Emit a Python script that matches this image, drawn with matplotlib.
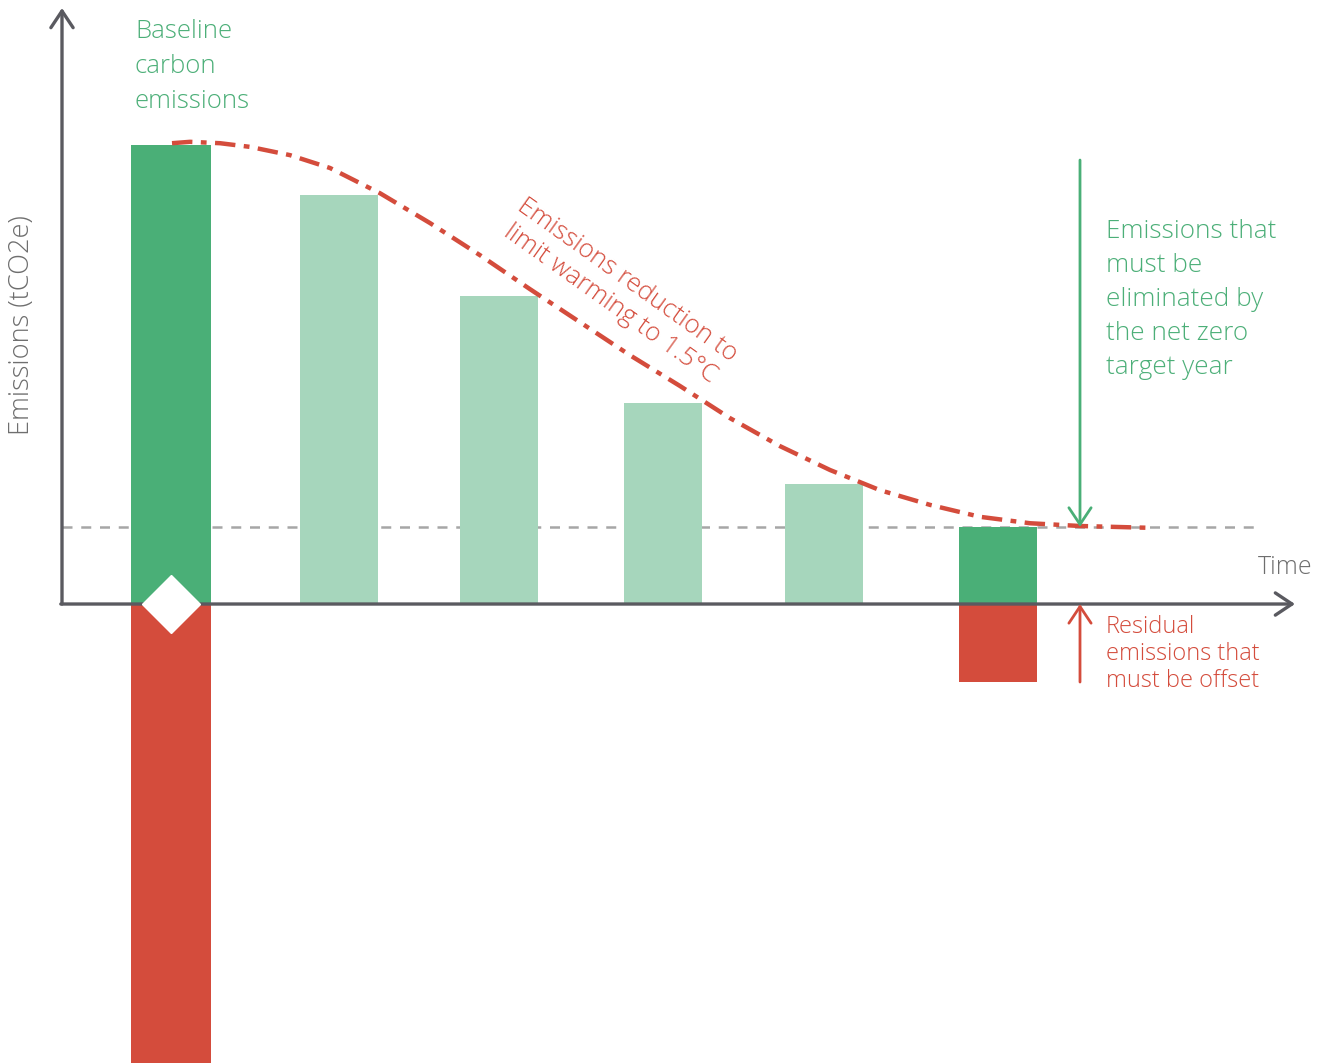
import matplotlib
matplotlib.use("Agg")
import matplotlib.pyplot as plt

plt.rcParams['font.family'] = ['Open Sans', 'DejaVu Sans']

# ---- data ----
bar_x = [171, 339, 499, 663, 824, 998]
bar_values = [100.0, 89.1, 67.1, 43.8, 26.1, 16.8]
bar_widths = [80, 78, 78, 78, 78, 78]
bar_kind = ['base', 'mid', 'mid', 'mid', 'mid', 'final']
offset_x = [171, 998]
offset_values = [-100.0, -17.0]
offset_widths = [80, 78]
net_zero_level = 16.8

curve_x = [172, 190, 220, 250, 290, 330, 380, 430, 480, 530, 580, 630, 680, 730,
           780, 830, 880, 930, 980, 1030, 1080, 1150]
curve_y = [100.4, 100.7, 100.4, 99.6, 97.8, 95.0, 89.5, 83.0, 76.0, 68.6, 61.4,
           54.2, 47.5, 40.5, 34.4, 29.2, 24.8, 21.6, 19.0, 17.6, 17.0, 16.6]

W, H = 1317, 1063
DARK_GREEN = '#4aaf77'
LIGHT_GREEN = '#a6d6bc'
RED = '#d44c3c'
TXT_GREEN = '#4caf78'
AX = '#5a5a60'
GREY_TXT = '#6e6e6e'

fig = plt.figure(figsize=(W / 100, H / 100), dpi=100)
ax = fig.add_axes([0, 0, 1, 1])
ax.set_xlim(0, W)
ax.set_ylim(-100, 131.6)
ax.axis('off')

def fx(px):
    return px / W

def fy(py):
    return 1 - py / H

colors = {'base': DARK_GREEN, 'mid': LIGHT_GREEN, 'final': DARK_GREEN}
ax.bar(bar_x, bar_values, width=bar_widths, color=[colors[k] for k in bar_kind],
       align='center', zorder=2)
ax.bar(offset_x, offset_values, width=offset_widths, color=RED, zorder=2)

# net zero dashed level
ax.plot([62, 1262], [net_zero_level, net_zero_level], color='#a6a6a6', lw=1.8,
        linestyle=(0, (4, 3.5)), zorder=1)

# reduction pathway
ax.plot(curve_x, curve_y, color=RED, lw=3.2, linestyle=(0, (4.6, 1.9, 1.3, 1.9)),
        zorder=3, solid_joinstyle='round', dash_joinstyle='round',
        dash_capstyle='butt')

# axes with arrows
ax.annotate('', xy=(62, 131.6 - 8 / 4.59), xytext=(62, 0),
            arrowprops=dict(arrowstyle='->,head_length=0.6,head_width=0.4',
                            color=AX, lw=2.4, mutation_scale=20, shrinkA=0, shrinkB=0),
            zorder=4)
ax.annotate('', xy=(1295, 0), xytext=(60.8, 0),
            arrowprops=dict(arrowstyle='->,head_length=0.6,head_width=0.4',
                            color=AX, lw=2.4, mutation_scale=20, shrinkA=0, shrinkB=0),
            zorder=4)

# diamond marker on baseline
ax.plot([bar_x[0]], [0], marker='D', markersize=30, color='white', zorder=5)

# annotation arrows
ax.annotate('', xy=(1080, net_zero_level), xytext=(1080, (604 - 160) / 4.59),
            arrowprops=dict(arrowstyle='->,head_length=0.6,head_width=0.4',
                            color=DARK_GREEN, lw=2.0, mutation_scale=20,
                            shrinkA=0, shrinkB=0), zorder=4)
ax.annotate('', xy=(1080, 0), xytext=(1080, offset_values[1]),
            arrowprops=dict(arrowstyle='->,head_length=0.6,head_width=0.4',
                            color=RED, lw=2.0, mutation_scale=20,
                            shrinkA=0, shrinkB=0), zorder=4)

# texts
fig.text(fx(135), fy(19), 'Baseline\ncarbon\nemissions', color=TXT_GREEN,
         fontsize=18.5, va='top', ha='left', linespacing=1.53, fontweight='light')
fig.text(fx(22), fy(325), 'Emissions (tCO2e)', color=GREY_TXT, fontsize=19.5,
         rotation=90, ha='center', va='center', fontweight='light')
fig.text(fx(1313), fy(567), 'Time', color=GREY_TXT, fontsize=18,
         ha='right', va='center', fontweight='light')
fig.text(fx(1106), fy(219), 'Emissions that\nmust be\neliminated by\nthe net zero\ntarget year',
         color=TXT_GREEN, fontsize=18.8, ha='left', va='top', linespacing=1.48,
         fontweight='light')
fig.text(fx(1106), fy(615), 'Residual\nemissions that\nmust be offset',
         color=RED, fontsize=17, ha='left', va='top', linespacing=1.18,
         fontweight='light')
fig.text(fx(619), fy(292), 'Emissions reduction to\nlimit warming to 1.5°C',
         color=RED, fontsize=18.5, ha='center', va='center', rotation=-35.5,
         rotation_mode='anchor', linespacing=1.2, fontweight='light')

fig.savefig('out.png', dpi=100)
